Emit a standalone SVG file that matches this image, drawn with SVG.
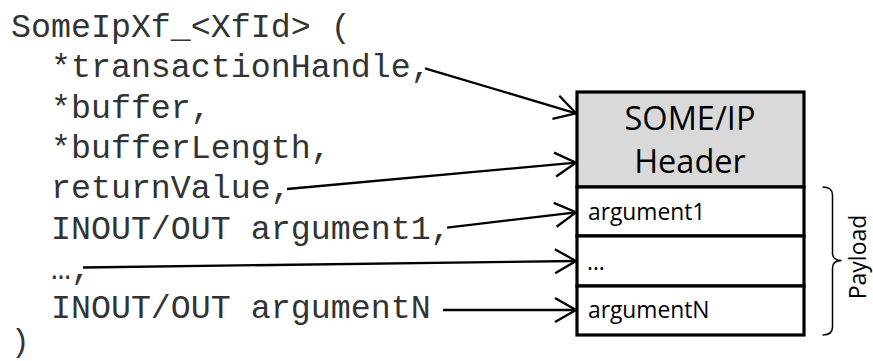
<svg xmlns="http://www.w3.org/2000/svg" width="873" height="361" viewBox="0 0 873 361">
<style>
.code{font-family:"Liberation Mono","Courier New",monospace;font-size:33.3px;fill:#333;white-space:pre}
.hdr{font-family:"Open Sans","Noto Sans",sans-serif;font-size:32.5px;fill:#000;text-anchor:middle}
.arg{font-family:"Open Sans","Noto Sans",sans-serif;font-size:22.8px;fill:#000}
.cell{stroke:#000;stroke-width:3.2}
.conn{fill:none;stroke:#000;stroke-width:2.3}
</style>
<defs>
<marker id="ah" markerUnits="userSpaceOnUse" markerWidth="30" markerHeight="30" viewBox="-24 -15 28 30" refX="0" refY="0" orient="auto">
<path d="M-21,-12 L0,0 L-21,12" fill="none" stroke="#000" stroke-width="2.3"/>
</marker>
</defs>
<rect width="873" height="361" fill="#fff"/>
<g id="signature">
<text class="code" x="11" y="37">SomeIpXf_&lt;XfId&gt; (</text>
<text class="code" x="11" y="77.3">  *transactionHandle,</text>
<text class="code" x="11" y="117.6">  *buffer,</text>
<text class="code" x="11" y="158">  *bufferLength,</text>
<text class="code" x="11" y="198">  returnValue,</text>
<text class="code" x="11" y="238.5">  INOUT/OUT argument1,</text>
<text class="code" x="11" y="279">  …,</text>
<text class="code" x="11" y="318">  INOUT/OUT argumentN</text>
<text class="code" x="11" y="351" style="font-size:31px">)</text>
</g>
<g id="header">
<rect class="cell" x="577" y="92" width="227" height="95" fill="#d9d9d9"/>
<text class="hdr" x="690" y="130">SOME/IP</text>
<text class="hdr" x="690" y="173">Header</text>
</g>
<g id="argument1">
<rect class="cell" x="577" y="187" width="227" height="49" fill="#fff"/>
<text class="arg" x="588" y="219.5">argument1</text>
</g>
<g id="ellipsis">
<rect class="cell" x="577" y="236" width="227" height="50" fill="#fff"/>
<text class="arg" x="587" y="270">…</text>
</g>
<g id="argumentN">
<rect class="cell" x="577" y="286" width="227" height="49" fill="#fff"/>
<text class="arg" x="588" y="318">argumentN</text>
</g>
<g id="payload">
<path d="M822.5,187 Q832.5,187 832.5,195 L832.5,253 Q832.5,260.5 841.5,260.5 Q832.5,260.5 832.5,268 L832.5,327 Q832.5,335 822.5,335" fill="none" stroke="#000" stroke-width="1.5"/>
<text class="arg" transform="translate(866,257) rotate(-90)" text-anchor="middle" style="font-size:23px">Payload</text>
</g>
<g id="connectors">
<line class="conn" x1="425" y1="68.3" x2="576" y2="113.3" marker-end="url(#ah)"/>
<line class="conn" x1="287" y1="189" x2="576" y2="162.7" marker-end="url(#ah)"/>
<line class="conn" x1="447" y1="227.7" x2="576" y2="212.3" marker-end="url(#ah)"/>
<line class="conn" x1="83" y1="267.5" x2="576" y2="261" marker-end="url(#ah)"/>
<line class="conn" x1="443" y1="310" x2="576" y2="310" marker-end="url(#ah)"/>
</g>
</svg>
